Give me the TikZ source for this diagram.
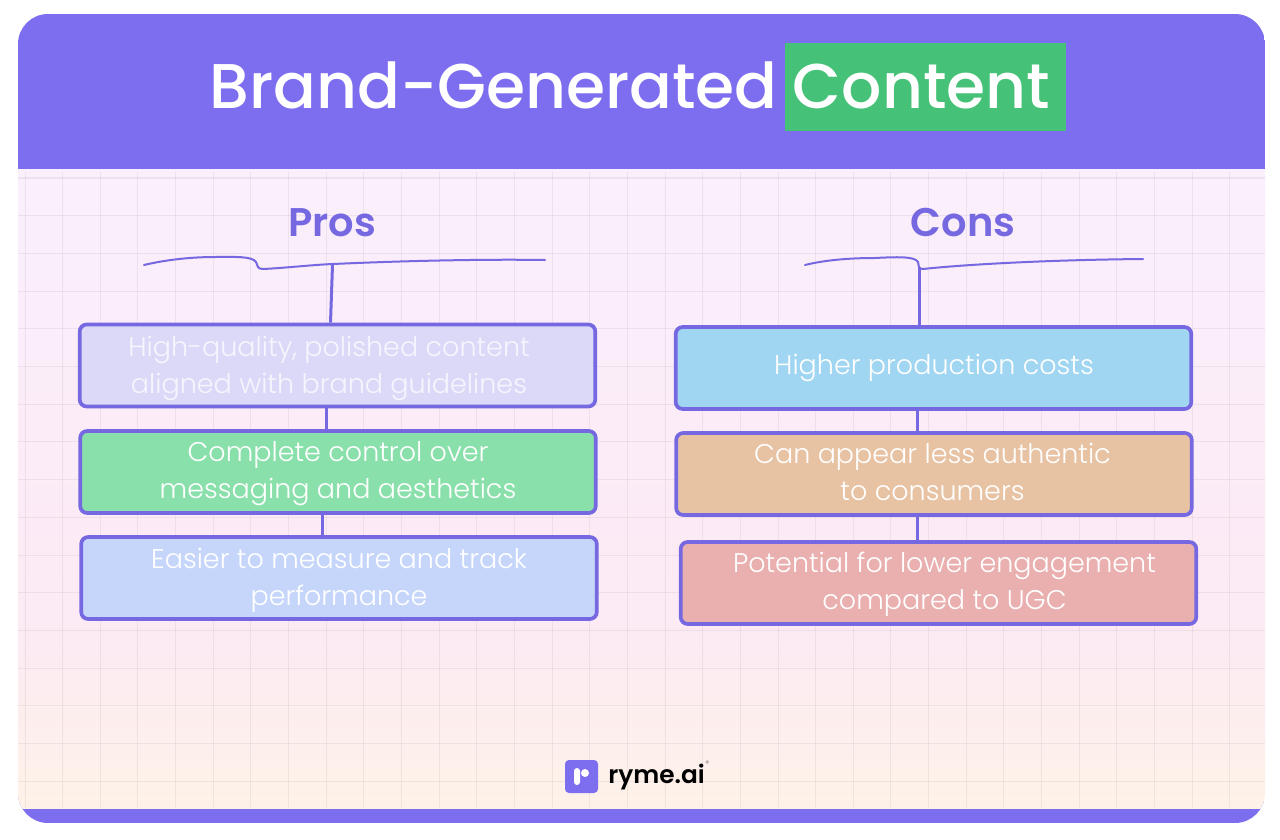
\documentclass[tikz,border=0pt]{standalone}
\usepackage{fontspec}
\setmainfont{Poppins}
\newfontfamily\lightfont{Poppins Light}
\newfontfamily\mediumfont{Poppins Medium}
\newfontfamily\semifont{Poppins SemiBold}
\usetikzlibrary{calc}
\definecolor{headerpurple}{HTML}{7D6EF0}
\definecolor{linepurple}{HTML}{7568E0}
\definecolor{contentgreen}{HTML}{46C278}
\definecolor{pagetop}{HTML}{FAEFFC}
\definecolor{pagemid}{HTML}{FCEAF4}
\definecolor{pagelow}{HTML}{FEF2E8}
\tikzset{
	cardbox/.style={draw=linepurple, line width=1.85pt, rounded corners=3.5pt, minimum width=257.8pt, minimum height=41pt, inner sep=0pt},
	cardtext/.style={text=white, font=\lightfont\fontsize{13.5}{18.5}\selectfont, align=center, inner sep=0pt},
	headtext/.style={text=linepurple, font=\semifont\fontsize{20}{24}\selectfont, anchor=base, inner sep=0pt},
	titletext/.style={text=white, font=\mediumfont\fontsize{31.6}{38}\selectfont, anchor=base west, inner sep=0pt},
	trunk/.style={draw=linepurple, line width=1.5pt},
	brace/.style={draw=linepurple, line width=1pt, line cap=round},
	gridstroke/.style={black, opacity=0.055, line width=0.5pt}
}

\begin{document}
\begin{tikzpicture}[x=0.5pt, y=-0.5pt]
		%%%%% START %%%%%
		
		\useasboundingbox (0, 0) rectangle (1280, 840);
		\fill[white] (0, 0) rectangle (1280, 840);
		
		\begin{scope}
			\clip[rounded corners=15pt] (18, 14) rectangle (1265, 823);
			\fill[headerpurple] (18, 14) rectangle (1265, 823);
			\shade[top color=pagetop, bottom color=pagemid] (18, 170) rectangle (1265, 620);
			\shade[top color=pagemid, bottom color=pagelow] (18, 620) rectangle (1265, 808);
			\foreach \i in {0,...,32}
				\draw[gridstroke] ({25+37.65*\i}, 172) -- ({25+37.65*\i}, 808);
			\foreach \i in {0,...,16}
				\draw[gridstroke] (18, {178+37.7*\i}) -- (1265, {178+37.7*\i});
		\end{scope}
		
		\node[fill=contentgreen, minimum width=140.5pt, minimum height=44pt, inner sep=0pt] (contentmark) at (925.5, 87) {};
		\node[titletext] (titlebrand) at (209, 109) {Brand-Generated};
		\node[titletext] (titlecontent) at (792.5, 109) {Content};
		
		\node[headtext] (proshead) at (332, 236) {Pros};
		\node[headtext] (conshead) at (963, 236) {Cons};
		
		\draw[brace] (144, 265) .. controls (165, 260) and (190, 257) .. (215, 257) .. controls (235, 257) and (252, 256) .. (256, 262) .. controls (258, 266) and (257, 269) .. (263, 269) .. controls (285, 268) and (310, 265) .. (333, 264) .. controls (400, 261) and (480, 259) .. (545, 260);
		\draw[brace] (805, 265) .. controls (825, 260) and (850, 258) .. (875, 258) .. controls (895, 257) and (915, 256) .. (918, 262) .. controls (919, 266) and (918, 269) .. (923, 269) .. controls (960, 265) and (1040, 260) .. (1143, 259);
		\coordinate (prosbrace) at (332.5, 265);
		\coordinate (consbrace) at (919.5, 267);
		
		\node[cardbox, fill={rgb,255:red,220;green,217;blue,248}] (prosone) at (337.5, 365.5) {};
		\node[cardbox, fill={rgb,255:red,138;green,224;blue,170}] (prostwo) at (338, 472) {};
		\node[cardbox, fill={rgb,255:red,198;green,214;blue,251}] (prosthree) at (339, 578) {};
		\node[cardbox, fill={rgb,255:red,160;green,214;blue,242}] (consone) at (933.5, 368) {};
		\node[cardbox, fill={rgb,255:red,232;green,195;blue,163}] (constwo) at (934, 474) {};
		\node[cardbox, fill={rgb,255:red,234;green,176;blue,176}] (consthree) at (938.5, 583) {};
		
		\node[cardtext, text opacity=0.75] (prosonetext) at (329, 368) {High-quality, polished content\\aligned with brand guidelines};
		\node[cardtext] (prostwotext) at (338, 473.5) {Complete control over\\messaging and aesthetics};
		\node[cardtext] (prosthreetext) at (339, 580.5) {Easier to measure and track\\performance};
		\node[cardtext] (consonetext) at (934, 368) {Higher production costs};
		\node[cardtext] (constwotext) at (932.5, 472) {Can appear less authentic\\to consumers};
		\node[cardtext] (consthreetext) at (944.5, 584.5) {Potential for lower engagement\\compared to UGC};
		
		\draw[trunk] (prosbrace) -- ([xshift=-3.5pt]prosone.north);
		\draw[trunk] ([xshift=-5.5pt]prosone.south) -- ([xshift=-5.75pt]prostwo.north);
		\draw[trunk] ([xshift=-8pt]prostwo.south) -- ([xshift=-8.5pt]prosthree.north);
		\draw[trunk] (consbrace) -- ([xshift=-7pt]consone.north);
		\draw[trunk] ([xshift=-8pt]consone.south) -- ([xshift=-8.25pt]constwo.north);
		\draw[trunk] ([xshift=-8.5pt]constwo.south) -- ([xshift=-10.75pt]consthree.north);
		
		\node[fill=headerpurple, rounded corners=2pt, minimum size=16.5pt, inner sep=0pt] (logomark) at (581.5, 776.5) {};
		\fill[white, rounded corners=1.5pt] (574, 768) rectangle (580, 785);
		\fill[white] (585, 773) circle (4);
		\node[font=\semifont\fontsize{12.4}{15}\selectfont, anchor=base west, inner sep=0pt] (logotext) at (608, 783) {ryme.ai};
		\node[font=\fontsize{4}{4}\selectfont, text=black!50, inner sep=0pt] (logoreg) at (707.5, 764) {®};
		
		%%%%% END %%%%%
	\end{tikzpicture}
\end{document}
